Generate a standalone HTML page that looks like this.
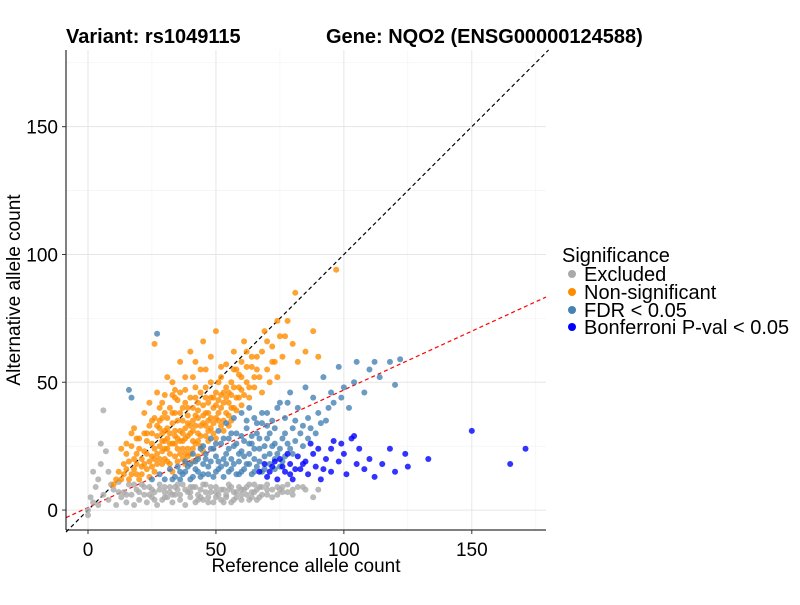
<!DOCTYPE html>
<html><head><meta charset="utf-8"><style>
body{margin:0;background:#fff;font-family:"Liberation Sans",sans-serif}
svg text{font-family:"Liberation Sans",sans-serif}
</style></head><body>
<svg id="chart" width="800" height="600" xmlns="http://www.w3.org/2000/svg">
<text x="66" y="43" font-size="20" font-weight="bold">Variant: rs1049115</text>
<text x="326" y="43" font-size="20" font-weight="bold">Gene: NQO2 (ENSG00000124588)</text>
<g id="grid"></g>
<g id="lines"></g>
<g id="points"></g>
<g id="axes"></g>
<text x="306" y="572" font-size="19" text-anchor="middle">Reference allele count</text>
<text transform="translate(20,290) rotate(-90)" font-size="19" text-anchor="middle">Alternative allele count</text>
<g>
<text x="562" y="262" font-size="20">Significance</text>
<circle cx="572" cy="274" r="4" fill="#A9A9A9"/><text x="584" y="281" font-size="20">Excluded</text>
<circle cx="572" cy="292" r="4" fill="#FF8C00"/><text x="584" y="299" font-size="20">Non-significant</text>
<circle cx="572" cy="310" r="4" fill="#4682B4"/><text x="584" y="317" font-size="20">FDR &lt; 0.05</text>
<circle cx="572" cy="327" r="4" fill="#0000FF"/><text x="584" y="334" font-size="20">Bonferroni P-val &lt; 0.05</text>
</g>
</svg>
<script>
const xTicks=[0,50,100,150];
const yTicks=[0,50,100,150];
const excluded=[[0,0],[1,5],[2,3],[3,9],[4,12],[5,26],[6,39],[7,23],[8,15],[4,2],[6,6],[8,4],[10,8],[11,2],[12,11],[13,5],[14,7],[15,3],[16,10],[17,6],[18,2],[19,8],[20,4],[21,10],[22,6],[23,3],[24,9],[25,5],[26,7],[27,2],[28,10],[29,4],[30,7],[31,5],[32,9],[33,3],[34,6],[35,8],[36,4],[37,10],[38,2],[39,7],[40,5],[41,9],[42,3],[43,6],[44,8],[45,4],[46,10],[47,5],[48,7],[49,3],[50,9],[51,6],[52,4],[53,8],[54,5],[55,10],[56,3],[57,7],[58,5],[59,9],[60,4],[61,8],[62,6],[63,10],[64,5],[65,7],[66,4],[67,9],[68,6],[70,8],[72,5],[74,9],[76,7],[78,10],[80,6],[82,9],[85,8],[88,5],[0,-2],[2,15],[9,10],[5,18],
[20,7],[22,9],[24,6],[26,4],[28,8],[30,5],[32,7],[34,9],[36,6],[38,8],[40,7],[42,9],[44,5],[46,7],[48,9],[50,5],[52,8],[54,6],[56,9],[58,7],[60,6],[62,9],[64,7],[66,8],[68,9],[70,6],[72,8],[74,6],[76,9],[78,7],[80,8],[84,9],[90,8],[35,10],[45,10],[55,8],[65,10],[25,8],[30,9],[40,9],[50,7],[60,8],[70,10],[75,8],[33,6],[43,4],[53,3],[63,4],[47,3],[57,4],[67,5],[15,6],[18,10],[12,7]];
const nonSig=[[12,15],[14,18],[15,22],[16,12],[17,25],[18,20],[19,14],[20,28],[21,17],[22,23],[23,30],[24,19],[25,35],[25,26],[26,15],[27,22],[28,32],[28,40],[29,18],[30,27],[30,45],[31,36],[32,22],[32,30],[33,50],[34,26],[34,38],[35,19],[35,43],[36,31],[37,24],[37,35],[38,47],[38,28],[39,40],[40,22],[40,33],[41,52],[41,27],[42,37],[42,44],[43,30],[44,25],[44,55],[45,34],[45,41],[46,29],[46,48],[47,38],[48,32],[48,60],[49,44],[50,36],[50,28],[51,50],[52,40],[52,33],[53,46],[54,38],[54,57],[55,42],[56,35],[56,50],[57,62],[58,44],[58,39],[59,53],[60,47],[60,41],[61,66],[62,50],[63,44],[64,56],[65,48],[66,60],[67,52],[68,46],[69,70],[70,55],[71,50],[72,64],[73,58],[74,52],[75,68],[76,60],[78,74],[80,65],[81,85],[82,58],[85,62],[88,70],[90,60],[97,94],[26,65],[10,10],[13,24],[18,32],[22,38],[27,46],[31,52],[36,58],[40,62],[45,66],[50,70],[33,15],[38,18],[43,21],[20,12],[24,13],[30,20],[35,28],[39,24],[29,36],[23,27],[19,22],[16,19],[14,14],[26,20],[28,25],[30,31],[32,18],[33,34],[34,21],[36,27],[37,30],[38,22],[39,34],[41,31],[42,26],[43,36],[44,29],[46,33],[47,27],[48,36],[49,30],[27,29],[29,23],[31,28],[34,31],[36,38],[39,29],[41,40],[43,42],[47,42],[51,38],[53,35],[55,37],
[13,12],[15,16],[17,14],[19,18],[21,20],[23,16],[25,21],[27,18],[29,27],[31,24],[33,26],[35,24],[37,27],[39,21],[41,24],[43,27],[45,23],[47,31],[49,34],[51,35],[53,31],[55,33],[57,40],[59,44],[61,45],[63,48],[65,52],[20,24],[22,30],[24,33],[26,36],[28,35],[30,38],[32,40],[34,44],[36,46],[38,42],[40,44],[42,48],[44,46],[46,44],[48,50],[50,46],[52,52],[54,48],[56,45],[58,55],[60,58],[62,56],[64,60],[66,55],[21,14],[23,22],[25,30],[27,33],[29,30],[31,32],[33,38],[35,35],[37,40],[39,37],[41,35],[43,39],[45,37],[47,35],[49,40],[51,43],[53,42],[55,46],[57,48],[59,48],[18,16],[22,18],[26,24],[30,24],[34,29],[38,32],[42,33],[46,38],[50,41],[54,44],[28,20],[32,26],[36,22],[40,30],[44,33],[48,44],[52,45],[56,40],[60,52],[34,47],[38,52],[42,58],[46,55],[52,56],[62,62],[68,62],[72,58],[70,66],[77,68],[74,74],[57,55],[19,28],[17,30],[15,26],[11,12],[24,42],[29,42],[33,45],[25,17],[31,19],[37,20],[41,19]];
const fdr=[[25,12],[28,14],[30,12],[32,16],[34,13],[35,17],[36,12],[38,15],[40,18],[40,12],[42,16],[43,20],[44,13],[45,18],[46,22],[47,14],[48,19],[49,24],[50,15],[50,21],[52,17],[52,26],[53,13],[54,22],[55,28],[56,16],[56,20],[57,25],[58,14],[58,30],[59,19],[60,23],[60,15],[61,27],[62,18],[62,32],[63,22],[64,14],[64,26],[65,20],[66,30],[66,17],[67,24],[68,34],[68,15],[69,21],[70,28],[70,38],[71,18],[72,25],[73,32],[74,22],[75,42],[76,28],[77,36],[78,26],[79,46],[80,32],[82,40],[83,30],[85,48],[86,36],[88,44],[90,38],[92,52],[95,46],[98,56],[100,48],[105,58],[110,55],[112,58],[114,52],[118,58],[120,49],[122,59],[27,69],[16,47],[17,44],[108,46],[102,40],[96,42],[93,35],[89,30],[86,28],[80,22],[76,19],[73,16],[44,24],[48,28],[51,31],[54,34],[57,36],[60,38],[63,40],[65,36],[45,25],[41,22],[38,19],
[33,12],[37,14],[39,17],[41,13],[43,15],[45,14],[47,17],[49,13],[51,16],[51,19],[53,20],[55,15],[55,24],[57,18],[59,14],[59,22],[61,16],[61,21],[63,18],[63,26],[65,15],[65,24],[67,19],[67,28],[69,16],[69,25],[71,22],[71,30],[73,20],[73,26],[75,17],[75,24],[77,21],[77,30],[79,24],[81,27],[81,35],[84,25],[84,33],[87,32],[91,34],[94,40],[99,44],[104,50],[46,20],[48,24],[50,26],[53,28],[56,30],[58,26],[60,29],[62,35],[66,34],[68,38],[72,35],[74,40],[78,42],[36,15],[42,19],[54,18],[64,29],[70,33]];
const bonf=[[67,15],[70,13],[72,17],[74,12],[75,20],[77,15],[79,18],[80,12],[82,21],[83,16],[85,19],[86,14],[88,22],[89,17],[90,24],[91,12],[93,20],[95,15],[96,27],[98,19],[100,22],[101,14],[103,28],[105,18],[106,24],[108,16],[110,20],[112,13],[115,18],[118,24],[120,15],[124,22],[125,17],[133,20],[150,31],[165,18],[171,24],[104,29],[99,26],[95,24],[92,16],[87,26],[78,22],[73,19],[69,18],[76,17],[81,16],[84,18],[71,15],[79,14]];
const redSlope=0.46, redIntercept=1;

const NS="http://www.w3.org/2000/svg";
const X0=66,X1=546,Y0=50,Y1=530,xmin=-8.6,xmax=179,ymin=-7.8,ymax=180;
const sx=v=>X0+(v-xmin)/(xmax-xmin)*(X1-X0);
const sy=v=>Y1-(v-ymin)/(ymax-ymin)*(Y1-Y0);
function mk(tag,attrs,parent){const e=document.createElementNS(NS,tag);for(const k in attrs)e.setAttribute(k,attrs[k]);parent.appendChild(e);return e;}
const grid=document.getElementById('grid'),lines=document.getElementById('lines'),pts=document.getElementById('points'),axes=document.getElementById('axes');
const minorX=[25,75,125,175],minorY=[25,75,125,175];
minorX.forEach(v=>{const l=mk('line',{x1:sx(v),x2:sx(v),y1:Y0,y2:Y1,stroke:'#f2f2f2','stroke-width':0.6},grid);});
minorY.forEach(v=>{const l=mk('line',{x1:X0,x2:X1,y1:sy(v),y2:sy(v),stroke:'#f2f2f2','stroke-width':0.6},grid);});
xTicks.forEach(v=>{const l=mk('line',{x1:sx(v),x2:sx(v),y1:Y0,y2:Y1,stroke:'#e6e6e6','stroke-width':1},grid);});
yTicks.forEach(v=>{const l=mk('line',{x1:X0,x2:X1,y1:sy(v),y2:sy(v),stroke:'#e6e6e6','stroke-width':1},grid);});
function draw(arr,color,name){arr.forEach(p=>{const c=mk('circle',{cx:sx(p[0]),cy:sy(p[1]),r:3,fill:color,'fill-opacity':0.8},pts);});}
draw(excluded,'#A9A9A9','point-excluded');
draw(nonSig,'#FF8C00','point-non-significant');
draw(fdr,'#4682B4','point-fdr');
draw(bonf,'#0000FF','point-bonferroni');
let dl=mk('line',{x1:sx(xmin),y1:sy(xmin),x2:sx(ymax),y2:sy(ymax),stroke:'#000','stroke-width':1.2,'stroke-dasharray':'4,3'},lines);


let rl=mk('line',{x1:sx(xmin),y1:sy(redIntercept+redSlope*xmin),x2:sx(xmax),y2:sy(redIntercept+redSlope*xmax),stroke:'#FF0000','stroke-width':1.2,'stroke-dasharray':'4,3'},lines);


let ax=mk('line',{x1:X0,x2:X1,y1:Y1,y2:Y1,stroke:'#000','stroke-width':1},axes);


let ay=mk('line',{x1:X0,x2:X0,y1:Y0,y2:Y1,stroke:'#000','stroke-width':1},axes);


xTicks.forEach(v=>{mk('line',{x1:sx(v),x2:sx(v),y1:Y1,y2:Y1+4,stroke:'#333'},axes);const t=mk('text',{x:sx(v),y:Y1+26,'font-size':19,'text-anchor':'middle',fill:'#000'},axes);t.textContent=v;});
yTicks.forEach(v=>{mk('line',{x1:X0-4,x2:X0,y1:sy(v),y2:sy(v),stroke:'#333'},axes);const t=mk('text',{x:X0-8,y:sy(v)+7,'font-size':19,'text-anchor':'end',fill:'#000'},axes);t.textContent=v;});
</script>
</body></html>
